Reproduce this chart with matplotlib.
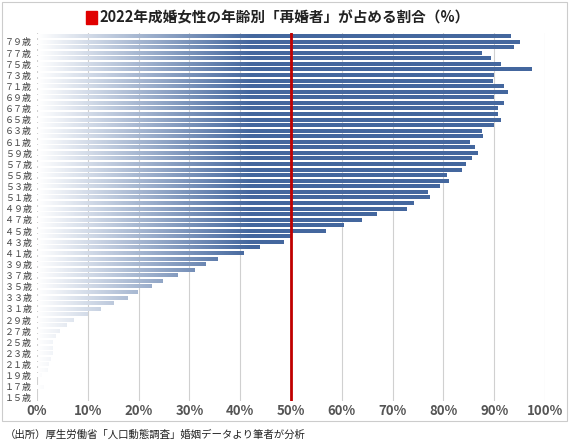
import numpy as np
import matplotlib.pyplot as plt
from matplotlib.colors import LinearSegmentedColormap
from matplotlib.patches import Rectangle

plt.rcParams['font.family'] = ['Noto Sans CJK JP', 'DejaVu Sans']

ages = list(range(15, 81))
# share of remarriages (%), age 15 .. 80
values = [0, 0, 1.2, 0, 0.9, 2.0, 2.3, 2.7, 3.1, 3.1, 3.1, 3.7, 4.5, 5.8, 7.1,
          9.9, 12.5, 15.0, 17.9, 19.7, 22.6, 24.8, 27.6, 31.0, 33.1, 35.6,
          40.6, 43.9, 48.5, 50.0, 56.9, 60.4, 63.8, 66.8, 72.7, 74.1, 77.3,
          76.9, 79.3, 81.1, 80.7, 83.6, 84.3, 85.6, 86.8, 86.1, 85.2, 87.8,
          87.6, 89.9, 91.2, 90.6, 90.7, 91.9, 89.9, 92.6, 91.9, 89.7, 89.9,
          97.3, 91.2, 89.2, 87.6, 93.9, 95.0, 93.3]
fw = str.maketrans('0123456789', '０１２３４５６７８９')
labels = [f"{a}".translate(fw) + "歳" if a % 2 == 1 and a < 80 else "" for a in ages]

blue = '#44679e'
cmap = LinearSegmentedColormap.from_list('fade', ['#ffffff', blue])

fig = plt.figure(figsize=(5.7, 4.41), dpi=100)
ax = fig.add_axes([0.065, 0.09, 0.891, 0.835])

for a, v in zip(ages, values):
    if v <= 0:
        continue
    xs = np.linspace(0, v, 200)
    grad = np.clip(xs / 42.0, 0, 1)[None, :]
    ax.imshow(grad, cmap=cmap, vmin=0, vmax=1, aspect='auto',
              extent=(0, v, a - 0.3, a + 0.3), zorder=2, interpolation='bilinear')

ax.set_xlim(0, 100)
ax.set_ylim(14.4, 80.6)
ax.set_xticks(np.arange(0, 101, 10))
ax.set_xticklabels([f"{t}%" for t in range(0, 101, 10)], fontsize=9.5,
                   color='#555555', fontweight='bold')
ax.set_yticks(ages)
ax.set_yticklabels(labels, fontsize=6.5, color='#444444')
ax.tick_params(length=0)
ax.tick_params(axis='x', pad=2)
ax.grid(axis='x', color='#d0d0d0', lw=0.8, zorder=0)
for s in ax.spines.values():
    s.set_visible(False)
ax.axvline(50, color='#c00000', lw=2, zorder=3)

fig.patches.append(Rectangle((0.15, 0.945), 0.02, 0.03, transform=fig.transFigure,
                             color='#e00000', figure=fig))
fig.text(0.175, 0.96, "2022年成婚女性の年齢別「再婚者」が占める割合（%）",
         fontsize=10.5, fontweight='bold', va='center', ha='left', color='#222222')
fig.text(0.008, 0.008, "（出所）厚生労働省「人口動態調査」婚姻データより筆者が分析",
         fontsize=7.5, color='#222222')
fig.patches.append(Rectangle((0.003, 0.045), 0.992, 0.95, transform=fig.transFigure,
                             fill=False, ec='#cccccc', lw=0.8, figure=fig))

fig.savefig('out.png', dpi=100)
